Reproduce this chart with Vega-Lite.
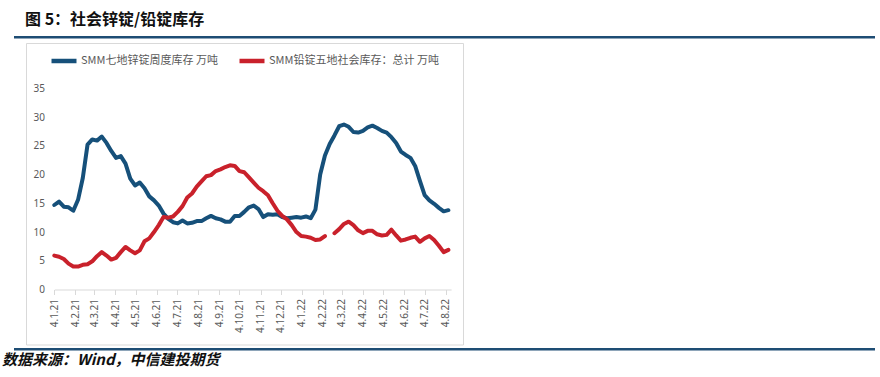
{
  "$schema": "https://vega.github.io/schema/vega-lite/v6.json",
  "padding": {"left": 2, "top": 12, "right": 5, "bottom": 2},
  "background": "white",
  "spacing": 3,
  "config": {"view": {"stroke": null}, "font": "Noto Sans CJK SC"},
  "title": {
    "text": "数据来源：Wind，中信建投期货",
    "orient": "bottom",
    "anchor": "start",
    "frame": "bounds",
    "dx": -12,
    "offset": 2,
    "baseline": "top",
    "font": "Noto Sans CJK SC",
    "fontSize": 15,
    "fontWeight": "bold",
    "fontStyle": "italic",
    "color": "#111111"
  },
  "datasets": {
    "inv": [
      {"date": "2021-01-04", "zinc": 14.7, "lead": 5.9},
      {"date": "2021-01-11", "zinc": 15.3, "lead": 5.7},
      {"date": "2021-01-18", "zinc": 14.4, "lead": 5.3},
      {"date": "2021-01-25", "zinc": 14.3, "lead": 4.5},
      {"date": "2021-02-01", "zinc": 13.7, "lead": 4.0},
      {"date": "2021-02-08", "zinc": 15.6, "lead": 4.0},
      {"date": "2021-02-15", "zinc": 19.4, "lead": 4.3},
      {"date": "2021-02-22", "zinc": 25.2, "lead": 4.4},
      {"date": "2021-03-01", "zinc": 26.1, "lead": 4.9},
      {"date": "2021-03-08", "zinc": 25.9, "lead": 5.8},
      {"date": "2021-03-15", "zinc": 26.6, "lead": 6.5},
      {"date": "2021-03-22", "zinc": 25.5, "lead": 5.9},
      {"date": "2021-03-29", "zinc": 24.1, "lead": 5.2},
      {"date": "2021-04-05", "zinc": 22.9, "lead": 5.5},
      {"date": "2021-04-12", "zinc": 23.2, "lead": 6.5},
      {"date": "2021-04-19", "zinc": 21.9, "lead": 7.4},
      {"date": "2021-04-26", "zinc": 19.3, "lead": 6.8},
      {"date": "2021-05-03", "zinc": 18.1, "lead": 6.3},
      {"date": "2021-05-10", "zinc": 18.6, "lead": 6.8},
      {"date": "2021-05-17", "zinc": 17.6, "lead": 8.4},
      {"date": "2021-05-24", "zinc": 16.2, "lead": 8.9},
      {"date": "2021-05-31", "zinc": 15.5, "lead": 10.0},
      {"date": "2021-06-07", "zinc": 14.6, "lead": 11.2},
      {"date": "2021-06-14", "zinc": 13.2, "lead": 12.6},
      {"date": "2021-06-21", "zinc": 12.3, "lead": 12.5},
      {"date": "2021-06-28", "zinc": 11.7, "lead": 12.7},
      {"date": "2021-07-05", "zinc": 11.5, "lead": 13.5},
      {"date": "2021-07-12", "zinc": 12.0, "lead": 14.5},
      {"date": "2021-07-19", "zinc": 11.5, "lead": 16.0},
      {"date": "2021-07-26", "zinc": 11.6, "lead": 16.7},
      {"date": "2021-08-02", "zinc": 11.9, "lead": 17.9},
      {"date": "2021-08-09", "zinc": 11.9, "lead": 18.8},
      {"date": "2021-08-16", "zinc": 12.4, "lead": 19.7},
      {"date": "2021-08-23", "zinc": 12.8, "lead": 19.9},
      {"date": "2021-08-30", "zinc": 12.4, "lead": 20.6},
      {"date": "2021-09-06", "zinc": 12.2, "lead": 20.9},
      {"date": "2021-09-13", "zinc": 11.8, "lead": 21.3},
      {"date": "2021-09-20", "zinc": 11.8, "lead": 21.6},
      {"date": "2021-09-27", "zinc": 12.8, "lead": 21.5},
      {"date": "2021-10-04", "zinc": 12.8, "lead": 20.6},
      {"date": "2021-10-11", "zinc": 13.5, "lead": 20.4},
      {"date": "2021-10-18", "zinc": 14.3, "lead": 19.5},
      {"date": "2021-10-25", "zinc": 14.6, "lead": 18.6},
      {"date": "2021-11-01", "zinc": 14.0, "lead": 17.7},
      {"date": "2021-11-08", "zinc": 12.6, "lead": 17.1},
      {"date": "2021-11-15", "zinc": 13.1, "lead": 16.4},
      {"date": "2021-11-22", "zinc": 13.0, "lead": 15.0},
      {"date": "2021-11-29", "zinc": 13.1, "lead": 13.7},
      {"date": "2021-12-06", "zinc": 12.6, "lead": 12.8},
      {"date": "2021-12-13", "zinc": 12.4, "lead": 12.2},
      {"date": "2021-12-20", "zinc": 12.5, "lead": 11.2},
      {"date": "2021-12-27", "zinc": 12.6, "lead": 10.0},
      {"date": "2022-01-03", "zinc": 12.5, "lead": 9.3},
      {"date": "2022-01-10", "zinc": 12.7, "lead": 9.2},
      {"date": "2022-01-17", "zinc": 12.4, "lead": 9.0},
      {"date": "2022-01-24", "zinc": 13.9, "lead": 8.6},
      {"date": "2022-01-31", "zinc": 20.0, "lead": 8.7},
      {"date": "2022-02-07", "zinc": 23.3, "lead": 9.3},
      {"date": "2022-02-14", "zinc": 25.3, "lead": null},
      {"date": "2022-02-21", "zinc": 26.8, "lead": 9.8},
      {"date": "2022-02-28", "zinc": 28.4, "lead": 10.5},
      {"date": "2022-03-07", "zinc": 28.7, "lead": 11.4},
      {"date": "2022-03-14", "zinc": 28.3, "lead": 11.8},
      {"date": "2022-03-21", "zinc": 27.4, "lead": 11.2},
      {"date": "2022-03-28", "zinc": 27.3, "lead": 10.3},
      {"date": "2022-04-04", "zinc": 27.6, "lead": 9.8},
      {"date": "2022-04-11", "zinc": 28.2, "lead": 10.2},
      {"date": "2022-04-18", "zinc": 28.5, "lead": 10.2},
      {"date": "2022-04-25", "zinc": 28.1, "lead": 9.6},
      {"date": "2022-05-02", "zinc": 27.6, "lead": 9.4},
      {"date": "2022-05-09", "zinc": 27.3, "lead": 9.5},
      {"date": "2022-05-16", "zinc": 26.5, "lead": 10.4},
      {"date": "2022-05-23", "zinc": 25.5, "lead": 9.4},
      {"date": "2022-05-30", "zinc": 24.0, "lead": 8.5},
      {"date": "2022-06-06", "zinc": 23.4, "lead": 8.7},
      {"date": "2022-06-13", "zinc": 22.9, "lead": 9.0},
      {"date": "2022-06-20", "zinc": 21.5, "lead": 9.2},
      {"date": "2022-06-27", "zinc": 18.9, "lead": 8.3},
      {"date": "2022-07-04", "zinc": 16.4, "lead": 8.9},
      {"date": "2022-07-11", "zinc": 15.5, "lead": 9.3},
      {"date": "2022-07-18", "zinc": 14.9, "lead": 8.6},
      {"date": "2022-07-25", "zinc": 14.2, "lead": 7.6},
      {"date": "2022-08-01", "zinc": 13.6, "lead": 6.5},
      {"date": "2022-08-08", "zinc": 13.8, "lead": 6.9}
    ]
  },
  "vconcat": [
    {
      "width": 861,
      "height": 2.5,
      "data": {"values": []},
      "mark": {"type": "point", "opacity": 0},
      "encoding": {},
      "view": {"fill": "#1e4d74", "stroke": null},
      "title": {
        "text": "图 5：社会锌锭/铅锭库存",
        "anchor": "start",
        "dx": 11,
        "offset": -8,
        "baseline": "bottom",
        "font": "Noto Sans CJK SC",
        "fontSize": 16,
        "fontWeight": "bold",
        "color": "#111111"
      }
    },
    {
      "spacing": 0,
      "hconcat": [
        {
          "width": 11,
          "height": 301.5,
          "data": {"values": []},
          "mark": {"type": "point", "opacity": 0},
          "encoding": {}
        },
        {
          "width": 437,
          "height": 301.5,
          "data": {"name": "inv"},
          "transform": [{"fold": ["zinc", "lead"], "as": ["series", "value"]}],
          "view": {"stroke": "#d9d9d9", "strokeWidth": 1},
          "mark": {
            "type": "line",
            "strokeWidth": 4,
            "strokeCap": "round",
            "strokeJoin": "round",
            "invalid": "break-paths-show-domains"
          },
          "encoding": {
            "x": {
              "field": "date",
              "type": "temporal",
              "scale": {
                "type": "utc",
                "domain": [
                  {"year": 2021, "month": 1, "date": 4, "utc": true},
                  {"year": 2022, "month": 8, "date": 12, "utc": true}
                ],
                "range": [28.3, 425.1]
              },
              "axis": {
                "values": [
                  {"year": 2021, "month": 1, "date": 4, "utc": true},
                  {"year": 2021, "month": 2, "date": 4, "utc": true},
                  {"year": 2021, "month": 3, "date": 4, "utc": true},
                  {"year": 2021, "month": 4, "date": 4, "utc": true},
                  {"year": 2021, "month": 5, "date": 4, "utc": true},
                  {"year": 2021, "month": 6, "date": 4, "utc": true},
                  {"year": 2021, "month": 7, "date": 4, "utc": true},
                  {"year": 2021, "month": 8, "date": 4, "utc": true},
                  {"year": 2021, "month": 9, "date": 4, "utc": true},
                  {"year": 2021, "month": 10, "date": 4, "utc": true},
                  {"year": 2021, "month": 11, "date": 4, "utc": true},
                  {"year": 2021, "month": 12, "date": 4, "utc": true},
                  {"year": 2022, "month": 1, "date": 4, "utc": true},
                  {"year": 2022, "month": 2, "date": 4, "utc": true},
                  {"year": 2022, "month": 3, "date": 4, "utc": true},
                  {"year": 2022, "month": 4, "date": 4, "utc": true},
                  {"year": 2022, "month": 5, "date": 4, "utc": true},
                  {"year": 2022, "month": 6, "date": 4, "utc": true},
                  {"year": 2022, "month": 7, "date": 4, "utc": true},
                  {"year": 2022, "month": 8, "date": 4, "utc": true}
                ],
                "labelExpr": "utcFormat(datum.value, '%-d.%-m.%y')",
                "title": null,
                "grid": false,
                "offset": -55,
                "labelAngle": 270,
                "labelAlign": "right",
                "labelBaseline": "middle",
                "labelFont": "Noto Sans",
                "labelFontSize": 10,
                "labelColor": "#595959",
                "labelPadding": 4,
                "labelFlush": false,
                "labelOverlap": false,
                "tickSize": 5,
                "tickColor": "#d9d9d9",
                "domainColor": "#d9d9d9"
              }
            },
            "y": {
              "field": "value",
              "type": "quantitative",
              "scale": {"domain": [0, 35], "range": [246.5, 45.3], "nice": false, "zero": false},
              "axis": {
                "values": [0, 5, 10, 15, 20, 25, 30, 35],
                "title": null,
                "grid": false,
                "domain": false,
                "ticks": false,
                "offset": -20.5,
                "labelPadding": 2,
                "labelFont": "Noto Sans",
                "labelFontSize": 10,
                "labelColor": "#595959"
              }
            },
            "color": {
              "field": "series",
              "type": "nominal",
              "scale": {"domain": ["zinc", "lead"], "range": ["#16507a", "#c9212b"]},
              "legend": {
                "orient": "none",
                "legendX": 35,
                "legendY": 10,
                "direction": "horizontal",
                "title": null,
                "symbolType": "stroke",
                "symbolSize": 625,
                "symbolStrokeWidth": 4.5,
                "labelFont": "Noto Sans CJK SC",
                "labelFontSize": 11,
                "labelColor": "#595959",
                "labelOffset": 2,
                "columnPadding": 12,
                "labelLimit": 300,
                "labelExpr": "datum.value == 'zinc' ? 'SMM七地锌锭周度库存 万吨' : 'SMM铅锭五地社会库存：总计 万吨'"
              }
            }
          }
        }
      ]
    },
    {
      "width": 861,
      "height": 2.5,
      "data": {"values": []},
      "mark": {"type": "point", "opacity": 0},
      "encoding": {},
      "view": {"fill": "#1e4d74", "stroke": null}
    }
  ]
}
